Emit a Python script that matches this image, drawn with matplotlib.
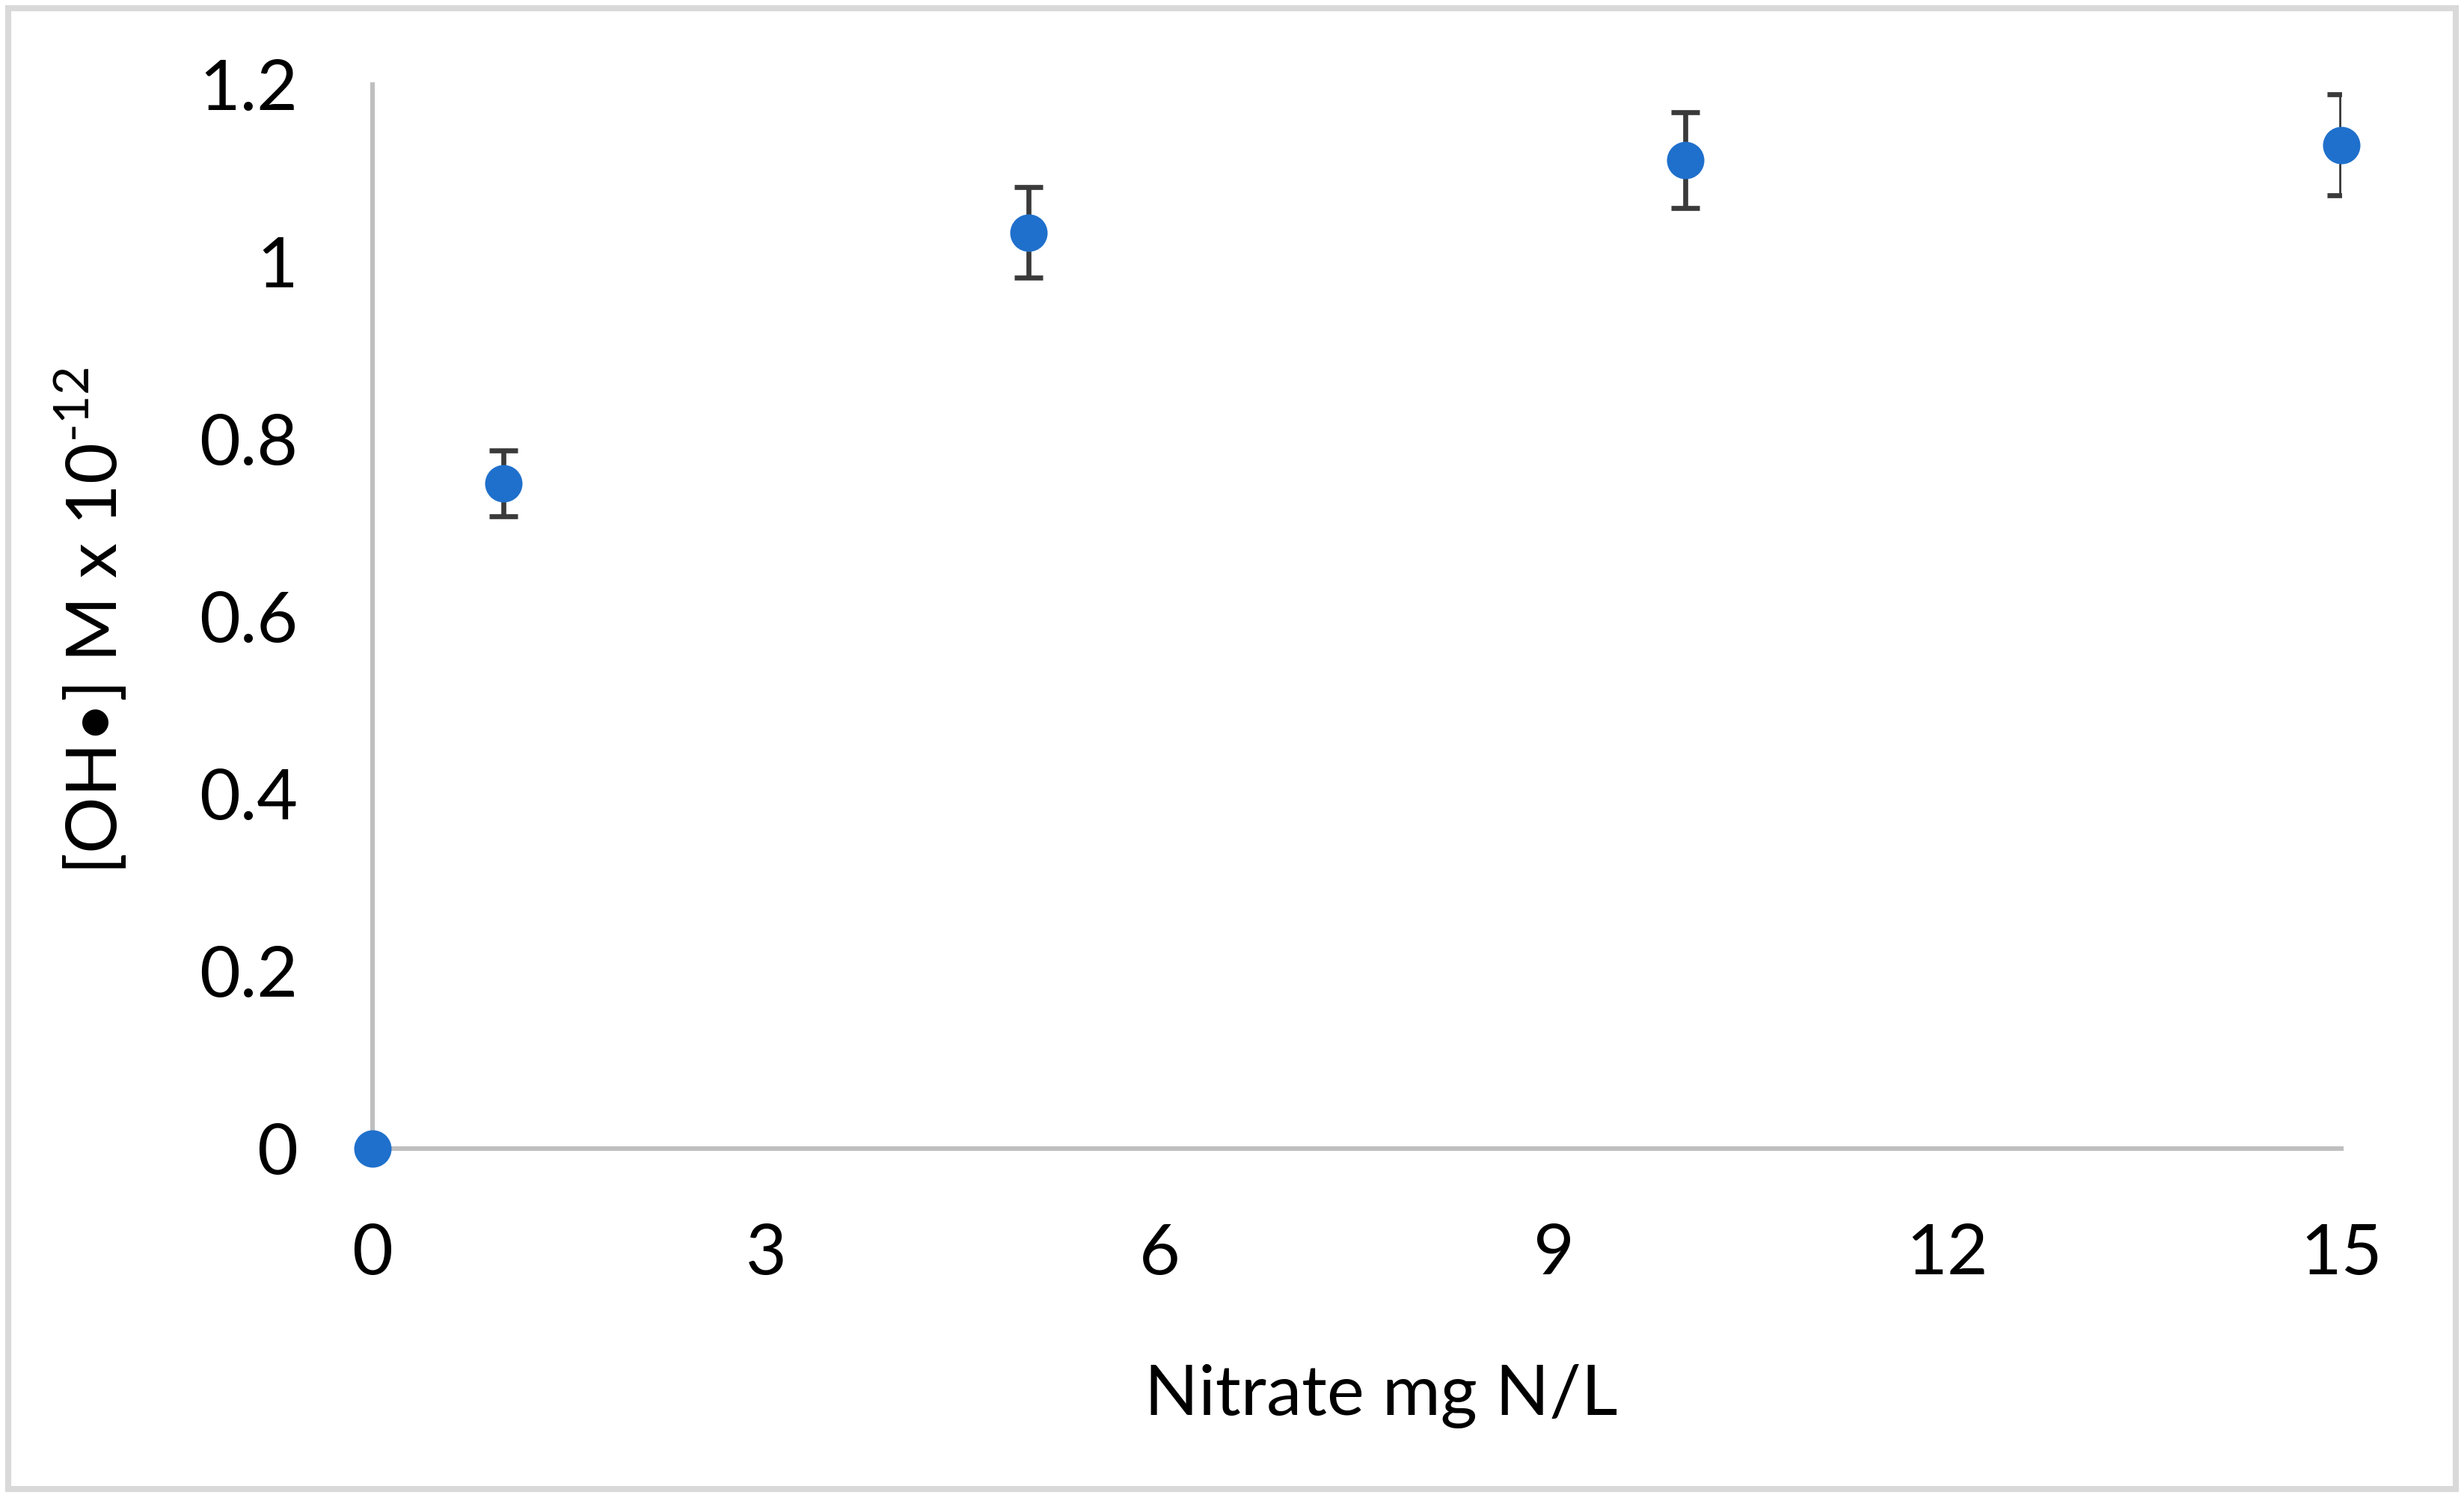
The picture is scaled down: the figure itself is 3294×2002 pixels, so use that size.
import numpy as np
import matplotlib
matplotlib.use("Agg")
import matplotlib.pyplot as plt
from matplotlib.patches import Rectangle

plt.rcParams['font.family'] = ['Lato', 'DejaVu Sans']
plt.rcParams['mathtext.fontset'] = 'custom'
plt.rcParams['mathtext.rm'] = 'Lato'

# data
nitrate = np.array([0, 1, 5, 10, 15])
oh_conc = np.array([0.0, 0.750, 1.033, 1.115, 1.132])
oh_err = np.array([0.0, 0.037, 0.051, 0.054, 0.057])
xticks = [0, 3, 6, 9, 12, 15]
yticks = [0, 0.2, 0.4, 0.6, 0.8, 1.0, 1.2]

W, H, dpi = 3294, 2002, 200
fig = plt.figure(figsize=(W/dpi, H/dpi), dpi=dpi)
ax = fig.add_axes([498/W, 1 - 1535/H, (3130-498)/W, (1535-113)/H])

grey = '#BFBFBF'
blue = '#1F70CC'

has_err = oh_err > 0
ax.errorbar(nitrate[has_err], oh_conc[has_err], yerr=oh_err[has_err], fmt='none',
            ecolor='#3A3A3A', elinewidth=2.4, capsize=6.8, capthick=2.4, zorder=2)
ax.plot(nitrate, oh_conc, 'o', color=blue, markersize=18, markeredgewidth=0,
        clip_on=False, zorder=3)

ax.set_xlim(0, 15)
ax.set_ylim(0, 1.2)
ax.set_xticks(xticks)
ax.set_yticks(yticks)
ax.set_yticklabels([f'{v:g}' for v in yticks])
ax.tick_params(length=0, labelsize=34, colors='black')
ax.tick_params(axis='y', pad=36)
ax.tick_params(axis='x', pad=36)

for s in ['top', 'right']:
    ax.spines[s].set_visible(False)
for s in ['left', 'bottom']:
    ax.spines[s].set_color(grey)
    ax.spines[s].set_linewidth(2.2)
    ax.spines[s].set_zorder(1)

fig.text(1846/W, 1 - 1866/H, 'Nitrate mg N/L', fontsize=34, ha='center', va='center')
fig.text(122/W, 1 - 830/H, r'[OH•] M x 10$^{\text{-12}}$', fontsize=34,
         rotation=90, ha='center', va='center')

fig.patches.append(Rectangle((11/W, 1 - 1990/H), (3283-11)/W, (1990-11)/H,
                             transform=fig.transFigure, fill=False,
                             edgecolor='#D9D9D9', linewidth=2.9))

fig.savefig('out.png', dpi=dpi)
